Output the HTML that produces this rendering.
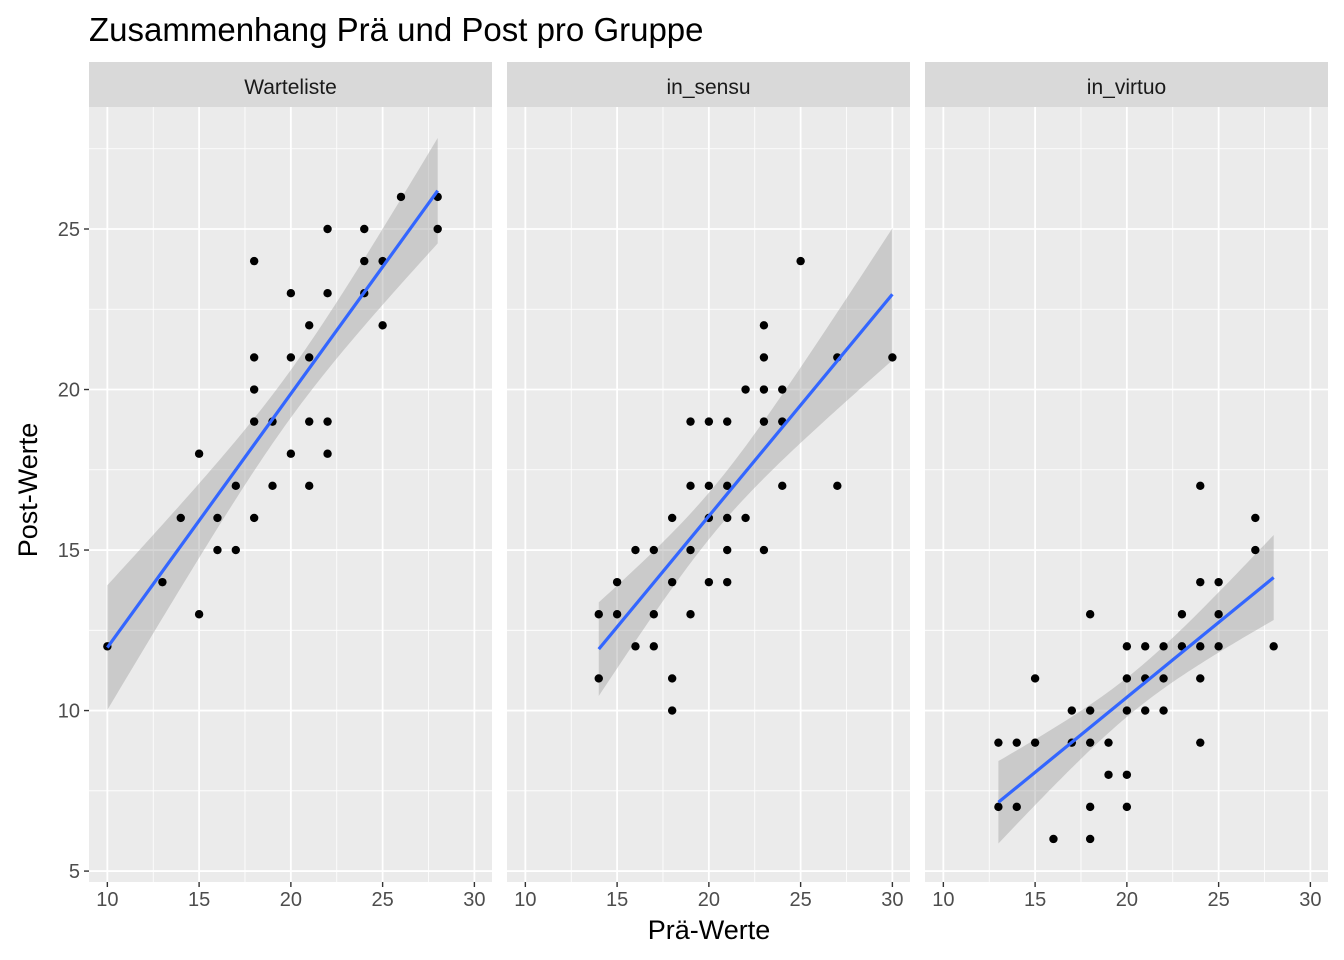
<!DOCTYPE html>
<html><head><meta charset="utf-8"><style>
body{margin:0;background:#fff;}
svg{display:block;font-family:"Liberation Sans",Arial,sans-serif;}
</style></head><body>
<svg id="chart" width="1344" height="960">
<text x="89" y="41" font-size="33" fill="#000">Zusammenhang Prä und Post pro Gruppe</text>
<text x="709" y="939" font-size="27" text-anchor="middle" fill="#000">Prä-Werte</text>
<text transform="translate(37,490) rotate(-90)" font-size="27" text-anchor="middle" fill="#000">Post-Werte</text>
</svg>
<script>
const groups = ["Warteliste","in_sensu","in_virtuo"];
const preW = [10,13,14,15,15,16,16,17,17,18,18,18,18,18,19,19,20,20,20,21,21,21,21,22,22,22,22,24,24,24,25,25,26,28,28];
const postW = [12,14,16,18,13,16,15,17,15,24,21,20,19,16,19,17,23,21,18,22,21,19,17,25,23,19,18,25,24,23,24,22,26,26,25];
const preS = [14,14,15,15,16,16,17,17,17,18,18,18,18,19,19,19,19,20,20,20,20,21,21,21,21,21,22,22,23,23,23,23,23,24,24,24,25,27,27,30];
const postS = [13,11,14,13,15,12,15,13,12,16,14,11,10,19,17,15,13,19,17,16,14,19,17,16,15,14,20,16,22,21,20,19,15,20,19,17,24,21,17,21];
const preV = [13,13,14,14,15,15,16,17,17,18,18,18,18,18,19,19,20,20,20,20,20,21,21,21,22,22,22,23,23,24,24,24,24,24,25,25,25,27,27,28];
const postV = [9,7,9,7,11,9,6,10,9,13,10,9,7,6,9,8,12,11,10,8,7,12,11,10,12,11,10,13,12,17,14,12,11,9,14,13,12,16,15,12];
const xTicks = [10,15,20,25,30];
const yTicks = [5,10,15,20,25];
const tCrit = [2.035,2.024,2.024];

const NS="http://www.w3.org/2000/svg";
const svg=document.getElementById('chart');
function mk(tag,attrs,parent){const e=document.createElementNS(NS,tag);for(const k in attrs)e.setAttribute(k,attrs[k]);(parent||svg).appendChild(e);return e;}
const panelLeft=[89,507,925], panelW=403;
const plotTop=107, plotBottom=882;
const xDom=[9.0,30.96], yDom=[4.66,28.8];
const yS=v=>plotBottom-(v-yDom[0])/(yDom[1]-yDom[0])*(plotBottom-plotTop);
const data=[[preW,postW],[preS,postS],[preV,postV]];

groups.forEach((g,i)=>{
  const L=panelLeft[i];
  const xS=v=>L+(v-xDom[0])/(xDom[1]-xDom[0])*panelW;
  const grp=mk('g',{});
  
  
  const bg=mk('rect',{x:L,y:plotTop,width:panelW,height:plotBottom-plotTop,fill:'#ebebeb'},grp);
  
  
  for(let k=0;k<xTicks.length-1;k++){const m=(xTicks[k]+xTicks[k+1])/2;
    mk('line',{x1:xS(m),x2:xS(m),y1:plotTop,y2:plotBottom,stroke:'#fff','stroke-width':0.8},grp);}
  for(let k=0;k<yTicks.length-1;k++){const m=(yTicks[k]+yTicks[k+1])/2;
    mk('line',{x1:L,x2:L+panelW,y1:yS(m),y2:yS(m),stroke:'#fff','stroke-width':0.8},grp);}
  mk('line',{x1:L,x2:L+panelW,y1:yS(27.5),y2:yS(27.5),stroke:'#fff','stroke-width':0.8},grp);
  xTicks.forEach(t=>{
    const gl=mk('line',{x1:xS(t),x2:xS(t),y1:plotTop,y2:plotBottom,stroke:'#fff','stroke-width':1.8},grp);
    
    
    mk('line',{x1:xS(t),x2:xS(t),y1:plotBottom,y2:plotBottom+5,stroke:'#333','stroke-width':1.4},grp);
    const tl=mk('text',{x:xS(t),y:plotBottom+24,'font-size':20,'text-anchor':'middle',fill:'#4d4d4d'},grp);
    tl.textContent=t;
    
    
  });
  yTicks.forEach(t=>{
    mk('line',{x1:L,x2:L+panelW,y1:yS(t),y2:yS(t),stroke:'#fff','stroke-width':1.8},grp);
    if(i===0){
      mk('line',{x1:L-5,x2:L,y1:yS(t),y2:yS(t),stroke:'#333','stroke-width':1.4});
      const tl=mk('text',{x:L-9,y:yS(t)+7,'font-size':20,'text-anchor':'end',fill:'#4d4d4d'});
      tl.textContent=t;
      
      
    }
  });
  const st=mk('rect',{x:L,y:62,width:panelW,height:45,fill:'#d9d9d9'},grp);
  
  
  const stt=mk('text',{x:L+panelW/2,y:94,'font-size':21,'text-anchor':'middle',fill:'#1a1a1a'},grp);
  stt.textContent=g;
  
  
  const xs=data[i][0], ys=data[i][1], n=xs.length;
  const mx=xs.reduce((a,b)=>a+b,0)/n, my=ys.reduce((a,b)=>a+b,0)/n;
  let sxx=0,sxy=0;for(let k=0;k<n;k++){sxx+=(xs[k]-mx)**2;sxy+=(xs[k]-mx)*(ys[k]-my);}
  const b=sxy/sxx,a=my-b*mx;
  let sse=0;for(let k=0;k<n;k++)sse+=(ys[k]-a-b*xs[k])**2;
  const s=Math.sqrt(sse/(n-2));
  const x0=Math.min(...xs),x1=Math.max(...xs);
  const up=[],lo=[];
  for(let k=0;k<=80;k++){const x=x0+(x1-x0)*k/80;const f=a+b*x;
    const se=s*Math.sqrt(1/n+(x-mx)**2/sxx)*tCrit[i];
    up.push(xS(x)+','+yS(f+se));lo.unshift(xS(x)+','+yS(f-se));}
  const band=mk('polygon',{points:up.concat(lo).join(' '),fill:'#999','fill-opacity':0.4},grp);
  
  
  for(let k=0;k<n;k++){
    const c=mk('circle',{cx:xS(xs[k]),cy:yS(ys[k]),r:4.2,fill:'#000'},grp);
    
    
  }
  const ln=mk('line',{x1:xS(x0),y1:yS(a+b*x0),x2:xS(x1),y2:yS(a+b*x1),stroke:'#3366ff','stroke-width':3.2},grp);
  
  
});
</script>
</body></html>
